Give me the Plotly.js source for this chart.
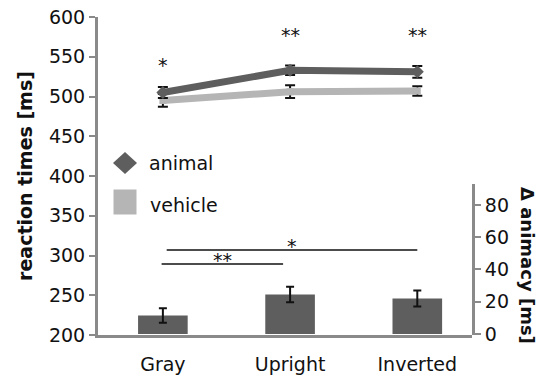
<!DOCTYPE html>
<html>
<head>
<meta charset="utf-8">
<script src="https://cdn.plot.ly/plotly-3.0.1.min.js"></script>
<style>html,body{margin:0;padding:0;background:#fff;}#chart{width:539px;height:379px;}</style>
</head>
<body>
<div id="chart"></div>
<script>
// ---- data ----
var categories = ["Gray", "Upright", "Inverted"];
var animalRT = [505, 533, 531];
var animalErr = [7, 6, 7.5];
var vehicleRT = [495, 506, 507];
var vehicleErr = [8, 8, 6];
var deltaAnimacy = [11.5, 24.5, 22];
var deltaErr = [4.5, 4.8, 5];
var topStars = ["*", "**", "**"];
var topStarLevel = [543, 581, 581];
var leftTicks = [200, 250, 300, 350, 400, 450, 500, 550, 600];
var rightTicks = [0, 20, 40, 60, 80];
// significance brackets: [from, to, label, level on Δ axis]
var sigBrackets = [[-0.01, 0.945, "**", 43.4], [0.03, 2.0, "*", 52]];

var dark = "#5e5e5e", light = "#b5b5b5", axisCol = "#8a8a8a", txt = "#111";
var F = "DejaVu Sans, Liberation Sans, Arial, sans-serif";
var xIdx = categories.map(function(c, i){ return i; });

var traces = [
  {x: xIdx, y: deltaAnimacy, type: "bar", yaxis: "y2", width: 0.39,
   marker: {color: dark}, showlegend: false,
   error_y: {type: "data", array: deltaErr, color: "#111", thickness: 2, width: 4}},
  {x: xIdx, y: vehicleRT, type: "scatter", mode: "lines+markers", name: "vehicle",
   line: {color: light, width: 7}, marker: {symbol: "square", size: 7, color: light},
   showlegend: false,
   error_y: {type: "data", array: vehicleErr, color: "#111", thickness: 2, width: 5}},
  {x: xIdx, y: animalRT, type: "scatter", mode: "lines+markers", name: "animal",
   line: {color: dark, width: 7}, marker: {symbol: "diamond", size: 10, color: dark},
   showlegend: false,
   error_y: {type: "data", array: animalErr, color: "#111", thickness: 2, width: 5}}
];

var W = 539, H = 379, L = 98, R = 67, T = 17, B = 44;
var pw = W - L - R, ph = H - T - B;
function px(xp){ return (xp - L) / pw; }
function py(yp){ return (H - B - yp) / ph; }

var annotations = [];
topStars.forEach(function(s, i){
  annotations.push({x: i, y: topStarLevel[i], xref: "x", yref: "y", text: s, showarrow: false,
    font: {family: F, size: 19, color: txt}, yanchor: "middle", yshift: -3});
});
var shapes = [];
sigBrackets.forEach(function(b){
  shapes.push({type: "line", xref: "x", yref: "y2", x0: b[0], x1: b[1], y0: b[3], y1: b[3],
    line: {color: "#111", width: 1.5}});
  annotations.push({x: (b[0] + b[1]) / 2, y: b[3], xref: "x", yref: "y2", text: b[2], showarrow: false,
    font: {family: F, size: 19, color: txt}, yanchor: "bottom", yshift: -9});
});
// legend (manual)
shapes.push({type: "path", xref: "paper", yref: "paper", xsizemode: "pixel", ysizemode: "pixel",
  xanchor: px(125), yanchor: py(163), path: "M -12 0 L 0 -11 L 12 0 L 0 11 Z",
  fillcolor: dark, line: {width: 0}});
shapes.push({type: "rect", xref: "paper", yref: "paper", xsizemode: "pixel", ysizemode: "pixel",
  xanchor: px(125), yanchor: py(202), x0: -11.5, x1: 11.5, y0: -12.5, y1: 12.5,
  fillcolor: light, line: {width: 0}});
annotations.push({x: px(147), y: py(163), xref: "paper", yref: "paper", text: "animal",
  showarrow: false, xanchor: "left", yanchor: "middle", font: {family: F, size: 19, color: txt}});
annotations.push({x: px(148), y: py(205), xref: "paper", yref: "paper", text: "vehicle",
  showarrow: false, xanchor: "left", yanchor: "middle", font: {family: F, size: 19, color: txt}});
// right axis title (reads top to bottom)
annotations.push({x: px(528), y: py(265), xref: "paper", yref: "paper", text: "Δ animacy [ms]",
  showarrow: false, textangle: 90, xanchor: "center", yanchor: "middle",
  font: {family: F, size: 18, color: "#111", weight: "bold"}});

var layout = {
  width: W, height: H, margin: {l: L, r: R, t: T, b: B},
  paper_bgcolor: "#fff", plot_bgcolor: "#fff", showlegend: false,
  font: {family: F, size: 19, color: txt},
  xaxis: {range: [-0.51, 2.43], tickvals: xIdx, ticktext: categories, showgrid: false,
    zeroline: false, showline: true, linecolor: axisCol, linewidth: 3, ticks: "",
    ticklabelstandoff: 10, tickfont: {family: F, size: 19, color: txt}},
  yaxis: {range: [200, 600], tickvals: leftTicks, showgrid: false, zeroline: false,
    showline: true, linecolor: axisCol, linewidth: 3, ticks: "outside", ticklen: 6,
    tickwidth: 2, tickcolor: axisCol, tickfont: {family: F, size: 19, color: txt},
    title: {text: "reaction times [ms]", standoff: 12,
      font: {family: F, size: 19, color: "#111", weight: "bold"}}},
  yaxis2: {domain: [0, 0.475], range: [-0.6, 93], anchor: "x", side: "right",
    tickvals: rightTicks, showgrid: false, zeroline: false, showline: true,
    linecolor: axisCol, linewidth: 3, ticks: "outside", ticklen: 6, tickwidth: 2,
    tickcolor: axisCol, tickfont: {family: F, size: 19, color: txt}},
  shapes: shapes, annotations: annotations
};
Plotly.newPlot("chart", traces, layout, {displayModeBar: false, staticPlot: true});
</script>
</body>
</html>
